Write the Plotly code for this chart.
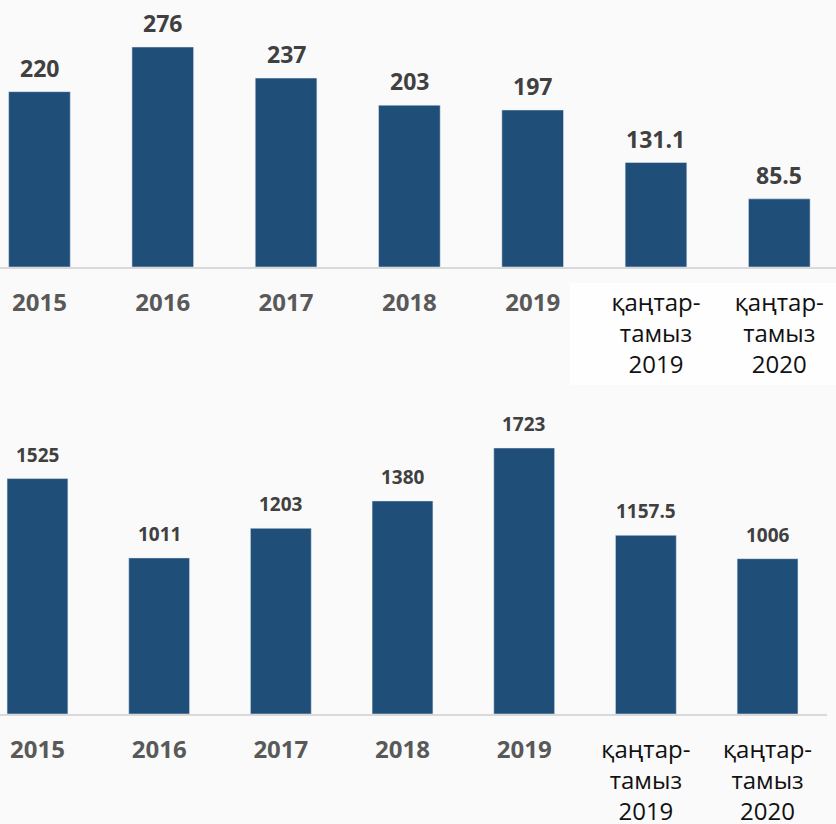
import plotly.graph_objects as go
from plotly.subplots import make_subplots

categories = ["2015", "2016", "2017", "2018", "2019",
              "қаңтар-тамыз 2019", "қаңтар-тамыз 2020"]
tick_labels = ["<b>2015</b>", "<b>2016</b>", "<b>2017</b>", "<b>2018</b>", "<b>2019</b>",
               "<span style='color:#111111'>қаңтар-<br>тамыз<br>2019</span>",
               "<span style='color:#111111'>қаңтар-<br>тамыз<br>2020</span>"]
top_values = [220, 276, 237, 203, 197, 131.1, 85.5]
top_text = ["220", "276", "237", "203", "197", "131.1", "85.5"]
bottom_values = [1525, 1011, 1203, 1380, 1723, 1157.5, 1006]
bottom_text = ["1525", "1011", "1203", "1380", "1723", "1157.5", "1006"]

BAR_COLOR = "#1f4e79"
LABEL_COLOR = "#404040"
FONT = "Open Sans"
H = 824

fig = make_subplots(rows=2, cols=1)

fig.add_trace(
    go.Bar(x=categories, y=top_values, marker_color=BAR_COLOR, width=0.5),
    row=1, col=1
)
fig.add_trace(
    go.Bar(x=categories, y=bottom_values, marker_color=BAR_COLOR, width=0.5),
    row=2, col=1
)

# value labels above bars (x given as category index so "2015" is not read as a number)
for i, (val, txt) in enumerate(zip(top_values, top_text)):
    fig.add_annotation(
        x=i, y=val, xref="x", yref="y", text=f"<b>{txt}</b>",
        showarrow=False, yanchor="bottom", yshift=6,
        font=dict(family=FONT, size=23, color=LABEL_COLOR)
    )
for i, (val, txt) in enumerate(zip(bottom_values, bottom_text)):
    fig.add_annotation(
        x=i, y=val, xref="x2", yref="y2", text=f"<b>{txt}</b>",
        showarrow=False, yanchor="bottom", yshift=9,
        font=dict(family=FONT, size=19, color=LABEL_COLOR)
    )

axis_common = dict(
    tickmode="array",
    tickvals=categories,
    ticktext=tick_labels,
    tickfont=dict(family=FONT, size=24, color="#595959"),
    showline=True,
    linecolor="#d9d9d9",
    linewidth=2,
    showgrid=False,
    ticks="",
    ticklabelstandoff=13,
    automargin=False,
    fixedrange=True,
)

fig.update_xaxes(axis_common, row=1, col=1)
fig.update_xaxes(axis_common, row=2, col=1)
fig.update_xaxes(range=[-0.320, 6.460], domain=[0, 1], row=1, col=1)
fig.update_xaxes(range=[-0.308, 6.487], domain=[0, 0.989], row=2, col=1)

fig.update_yaxes(visible=False, showgrid=False, zeroline=False,
                 automargin=False, fixedrange=True)
fig.update_yaxes(range=[0, 335], domain=[(H - 267) / H, 1.0], row=1, col=1)
fig.update_yaxes(range=[0, 2034], domain=[(H - 714) / H, (H - 400) / H], row=2, col=1)

# faint white panel behind the top-right labels, as in the source slide
fig.add_shape(
    type="rect", xref="paper", yref="paper",
    x0=570 / 836, x1=1, y0=(H - 385) / H, y1=(H - 283) / H,
    fillcolor="#fefefe", line_width=0, layer="below"
)

fig.update_layout(
    width=836,
    height=H,
    margin=dict(l=0, r=0, t=0, b=0, autoexpand=False),
    paper_bgcolor="#fafafa",
    plot_bgcolor="rgba(0,0,0,0)",
    showlegend=False,
    bargap=0.5,
    font=dict(family=FONT),
)

fig.write_html(
    "out.html",
    config={"displayModeBar": False},
    post_script="document.body.style.margin='0';"
)
